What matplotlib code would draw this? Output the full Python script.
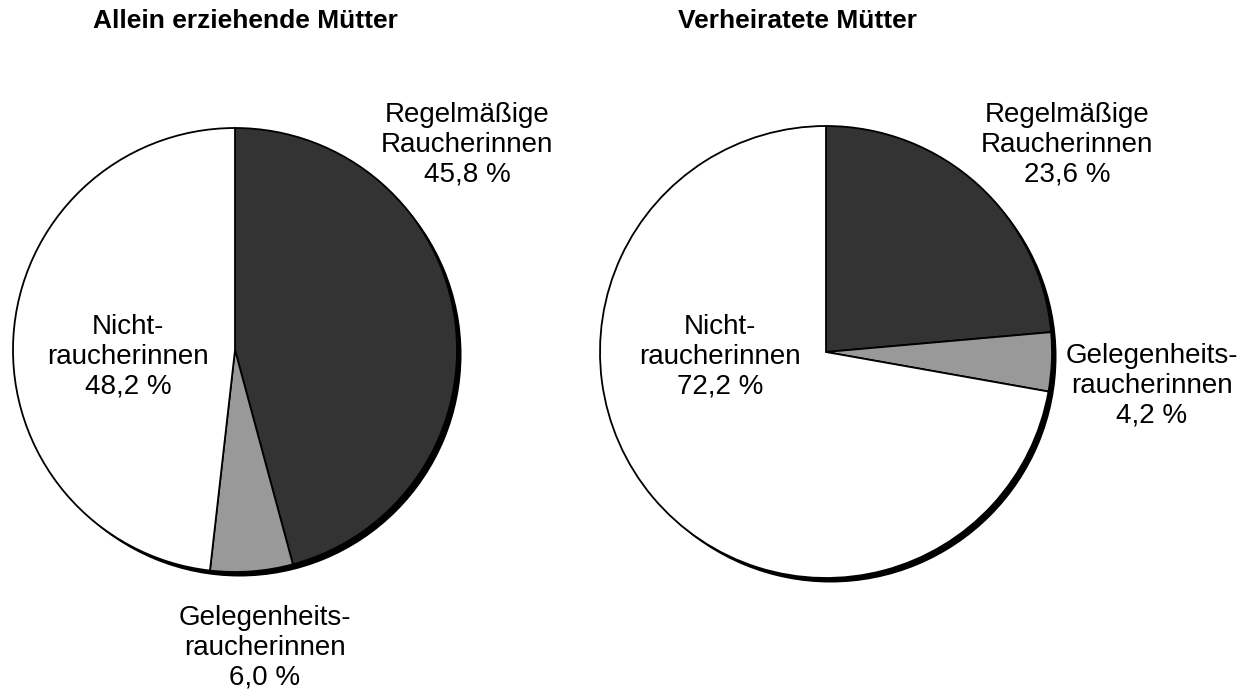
import matplotlib.pyplot as plt

plt.rcParams['font.family'] = ['Liberation Sans', 'DejaVu Sans']

# Anteile in Prozent: regelmäßig, gelegentlich, nicht
allein = [45.8, 6.0, 48.2]
verheiratet = [23.6, 4.2, 72.2]
titel = ['Allein erziehende Mütter', 'Verheiratete Mütter']
farben = ['#333333', '#999999', '#ffffff']

W, H = 1246, 691
fig = plt.figure(figsize=(W / 100, H / 100), dpi=100)


def kuchen(werte, cx, cy, r):
    # Achse in Pixelgroesse um den Mittelpunkt, Radius 1
    ax = fig.add_axes([(cx - 1.05 * r) / W, 1 - (cy + 1.05 * r) / H,
                       2.1 * r / W, 2.1 * r / H])
    d = 4.5 / r
    ax.pie([1], colors=['black'], radius=1, center=(d, -d),
           wedgeprops=dict(linewidth=0))
    ax.pie(werte, colors=farben, startangle=90, counterclock=False,
           radius=1, wedgeprops=dict(edgecolor='black', linewidth=1.3))
    ax.set_xlim(-1.05, 1.05)
    ax.set_ylim(-1.05, 1.05)
    ax.set_aspect('auto')
    ax.axis('off')
    return ax


kuchen(allein, 235, 350, 222)
kuchen(verheiratet, 826, 352, 226)


def txt(x, y, s, size=20, **kw):
    fig.text(x / W, 1 - y / H, s, ha='center', va='center',
             fontsize=size, linespacing=1.19, **kw)


txt(245, 21, titel[0], size=19, fontweight='bold')
txt(798, 21, titel[1], size=19, fontweight='bold')

fmt = lambda v: f'{v:.1f} %'.replace('.', ',')

txt(467, 145, 'Regelmäßige\nRaucherinnen\n' + fmt(allein[0]))
txt(128, 357, 'Nicht-\nraucherinnen\n' + fmt(allein[2]))
txt(265, 648, 'Gelegenheits-\nraucherinnen\n' + fmt(allein[1]))

txt(1067, 145, 'Regelmäßige\nRaucherinnen\n' + fmt(verheiratet[0]))
txt(720, 357, 'Nicht-\nraucherinnen\n' + fmt(verheiratet[2]))
txt(1152, 386, 'Gelegenheits-\nraucherinnen\n' + fmt(verheiratet[1]))

fig.savefig('out.png', dpi=100)
